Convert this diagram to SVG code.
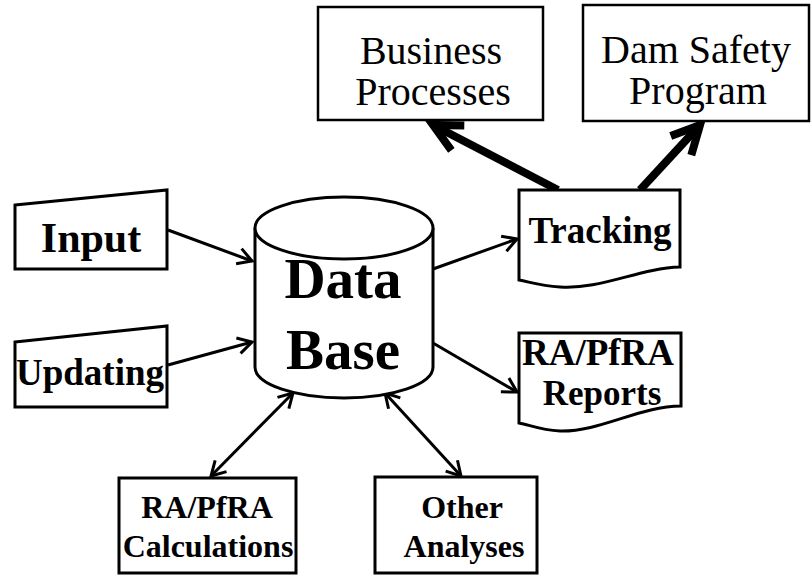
<svg xmlns="http://www.w3.org/2000/svg" width="811" height="575" viewBox="0 0 811 575">
<defs>
<style>
.box{fill:#fff;stroke:#000;stroke-width:3;stroke-linejoin:miter}
.box2{fill:#fff;stroke:#000;stroke-width:2.5}
.t{font-family:"Liberation Serif","Times New Roman",serif;font-weight:bold;text-anchor:middle;fill:#000}
.n{font-family:"Liberation Serif","Times New Roman",serif;font-weight:normal;text-anchor:middle;fill:#000;font-size:40px}
.c{fill:none;stroke:#000;stroke-width:3}
.ck{fill:none;stroke:#000;stroke-width:8}
</style>
<marker id="ah" markerUnits="userSpaceOnUse" viewBox="-16 -10 20 20" refX="0" refY="0" markerWidth="20" markerHeight="20" orient="auto-start-reverse" overflow="visible">
<path d="M-14,-8 L0,0 L-14,8" fill="none" stroke="#000" stroke-width="3"/>
</marker>
<marker id="ahk" markerUnits="userSpaceOnUse" viewBox="-34 -18 40 36" refX="0" refY="0" markerWidth="40" markerHeight="36" orient="auto" overflow="visible">
<path d="M-28,-14 L0,0 L-28,14" fill="none" stroke="#000" stroke-width="8"/>
</marker>
</defs>
<rect width="811" height="575" fill="#fff"/>

<g id="connectors">
<line class="c" x1="168" y1="230" x2="252" y2="261" marker-end="url(#ah)"/>
<line class="c" x1="168" y1="365" x2="252" y2="342" marker-end="url(#ah)"/>
<line class="c" x1="433" y1="269" x2="517" y2="239" marker-end="url(#ah)"/>
<line class="c" x1="433" y1="343" x2="517" y2="392" marker-end="url(#ah)"/>
<line class="c" x1="293" y1="393" x2="211" y2="476" marker-start="url(#ah)" marker-end="url(#ah)"/>
<line class="c" x1="385" y1="393" x2="461" y2="476" marker-start="url(#ah)" marker-end="url(#ah)"/>
<line class="ck" x1="558" y1="190" x2="433" y2="125" marker-end="url(#ahk)"/>
<line class="ck" x1="640" y1="190" x2="700" y2="125" marker-end="url(#ahk)"/>
</g>

<g id="input">
<polygon class="box" points="15,205 167,190 167,269 15,269"/>
<text class="t" x="91" y="252" font-size="42">Input</text>
</g>

<g id="updating">
<polygon class="box" points="15,342 167,326 167,407 15,407"/>
<text class="t" x="90" y="385" font-size="37">Updating</text>
</g>

<g id="database">
<path class="box" d="M255,228 L255,367 A89,31 0 0 0 433,367 L433,228 A89,31 0 0 0 255,228 Z"/>
<path class="box" d="M255,228 A89,31 0 0 0 433,228" fill="none"/>
<text class="t" x="343" y="298" font-size="57">Data</text>
<text class="t" x="343" y="369" font-size="57">Base</text>
</g>

<g id="business">
<rect class="box2" x="318" y="7" width="225" height="113"/>
<text class="n" x="431" y="64">Business</text>
<text class="n" x="433" y="105">Processes</text>
</g>

<g id="damsafety">
<rect class="box2" x="583" y="5" width="226" height="116"/>
<text class="n" x="696" y="63">Dam Safety</text>
<text class="n" x="698" y="104">Program</text>
</g>

<g id="tracking">
<path class="box" d="M519,190 L680,190 L680,267 C640,268 600,290 560,287 C540,286 530,282 519,280 Z"/>
<text class="t" x="600" y="243" font-size="37">Tracking</text>
</g>

<g id="reports">
<path class="box" d="M519,333 L681,333 L681,406 C640,406 600,432 560,431 C540,430 530,425 519,423 Z"/>
<text class="t" x="598" y="365" font-size="37">RA/PfRA</text>
<text class="t" x="602" y="405" font-size="35">Reports</text>
</g>

<g id="calculations">
<rect class="box" x="119" y="478" width="177" height="95"/>
<text class="t" x="207" y="518" font-size="32">RA/PfRA</text>
<text class="t" x="208" y="557" font-size="32">Calculations</text>
</g>

<g id="other">
<rect class="box" x="375" y="477" width="162" height="96"/>
<text class="t" x="462" y="518" font-size="32">Other</text>
<text class="t" x="464" y="557" font-size="32">Analyses</text>
</g>
</svg>
